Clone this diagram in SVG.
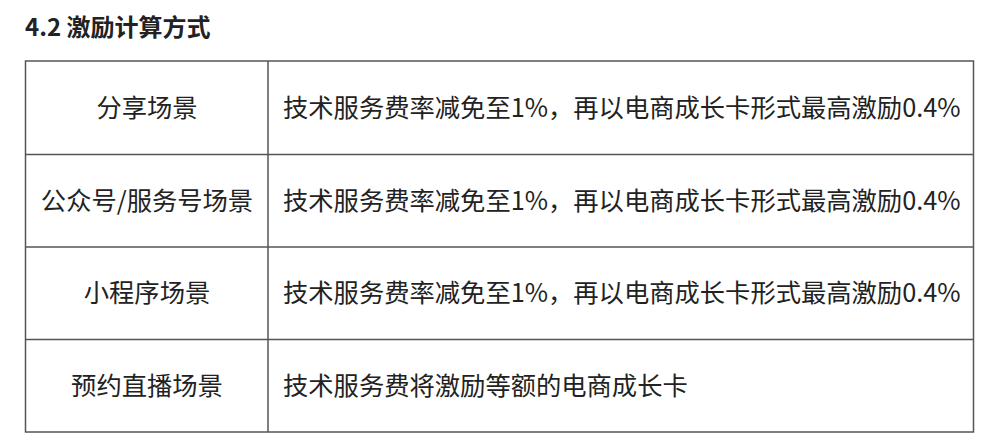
<svg xmlns="http://www.w3.org/2000/svg" width="1000" height="445" viewBox="0 0 1000 445">
<style>
.t{font-family:"Noto Sans CJK SC","Liberation Sans",sans-serif;font-size:25.3px;fill:#222}
.h{font-family:"Noto Sans CJK SC","Liberation Sans",sans-serif;font-size:24px;font-weight:bold;fill:#222}
.l{stroke:#555;stroke-width:1.5;fill:none}
</style>
<rect width="1000" height="445" fill="#fff"/>
<text class="h" x="25" y="36">4.2 激励计算方式</text>
<g id="table">
<rect class="l" x="25.5" y="61" width="948" height="371"/>
<line class="l" x1="268" y1="61" x2="268" y2="432"/>
<line class="l" x1="25.5" y1="154.5" x2="973.5" y2="154.5"/>
<line class="l" x1="25.5" y1="247" x2="973.5" y2="247"/>
<line class="l" x1="25.5" y1="339.5" x2="973.5" y2="339.5"/>
</g>
<g id="row1"><text class="t" x="147" y="117" text-anchor="middle">分享场景</text><text class="t" x="283" y="117">技术服务费率减免至1%，再以电商成长卡形式最高激励0.4%</text></g>
<g id="row2"><text class="t" x="147" y="210" text-anchor="middle">公众号/服务号场景</text><text class="t" x="283" y="210">技术服务费率减免至1%，再以电商成长卡形式最高激励0.4%</text></g>
<g id="row3"><text class="t" x="147" y="302" text-anchor="middle">小程序场景</text><text class="t" x="283" y="302">技术服务费率减免至1%，再以电商成长卡形式最高激励0.4%</text></g>
<g id="row4"><text class="t" x="147" y="395" text-anchor="middle">预约直播场景</text><text class="t" x="283" y="395">技术服务费将激励等额的电商成长卡</text></g>
</svg>
